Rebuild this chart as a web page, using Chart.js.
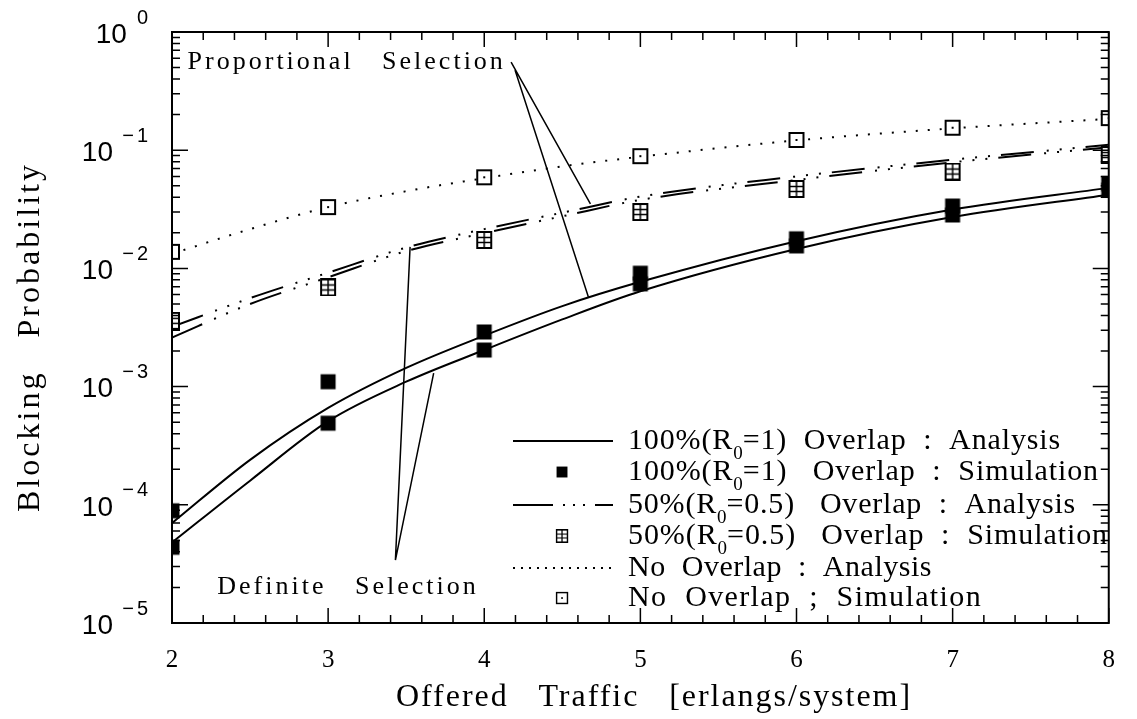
<!DOCTYPE html>
<html>
<head>
<meta charset="utf-8">
<script src="https://cdn.jsdelivr.net/npm/chart.js@4.4.0/dist/chart.umd.min.js"></script>
<style>
  html, body { margin: 0; padding: 0; background: #fff; }
  #wrap { width: 1137px; height: 719px; }
</style>
</head>
<body>
<div id="wrap"><canvas id="chartCanvas"></canvas></div>
<script>
// --- Data ---
const simTraffic = [2, 3, 4, 5, 6, 7, 8];
const anaTraffic = [2, 2.5, 3, 3.5, 4, 4.5, 5, 6, 7, 8];

// 100% overlap, analysis (proportional / definite selection)
const fullAnaProp = [7.0e-5, 2.4e-4, 6.6e-4, 1.44e-3, 2.7e-3, 4.8e-3, 7.7e-3, 1.7e-2, 3.15e-2, 4.8e-2];
const fullAnaDef = [4.8e-5, 1.6e-4, 5.1e-4, 1.1e-3, 2.04e-3, 3.7e-3, 6.4e-3, 1.46e-2, 2.72e-2, 4.2e-2];
// 100% overlap, simulation (two runs)
const fullSimProp = [8.9e-5, 1.1e-3, 2.9e-3, 9.1e-3, 1.78e-2, 3.37e-2, 5.2e-2];
const fullSimDef = [4.37e-5, 4.9e-4, 2.04e-3, 7.4e-3, 1.55e-2, 2.83e-2, 4.6e-2];

// 50% overlap
const halfAnaProp = [3.2e-3, 5.6e-3, 9.2e-3, 1.5e-2, 2.15e-2, 2.96e-2, 4.05e-2, 6.0e-2, 8.3e-2, 1.11e-1];
const halfAnaDef = [2.6e-3, 5.0e-3, 8.4e-3, 1.4e-2, 1.99e-2, 2.76e-2, 3.8e-2, 5.6e-2, 7.9e-2, 1.06e-1];
const halfSim = [3.6e-3, 6.9e-3, 1.74e-2, 3.0e-2, 4.7e-2, 6.6e-2, 9.1e-2];

// No overlap
const noAna = [1.33e-2, 2.15e-2, 3.3e-2, 4.5e-2, 5.8e-2, 7.3e-2, 8.8e-2, 1.21e-1, 1.53e-1, 1.84e-1];
const noSim = [1.38e-2, 3.3e-2, 5.9e-2, 8.9e-2, 1.22e-1, 1.55e-1, 1.87e-1];

const yExponents = [0, -1, -2, -3, -4, -5];

// legend rows: text before subscript, subscript, text after
const legendLabels = [
    ['100%(R', '0', '=1)  Overlap  :  Analysis'],
    ['100%(R', '0', '=1)   Overlap  :  Simulation'],
    ['50%(R', '0', '=0.5)   Overlap  :  Analysis'],
    ['50%(R', '0', '=0.5)   Overlap  :  Simulation'],
    ['No  Overlap  :  Analysis', '', ''],
    ['No  Overlap  ;  Simulation', '', '']
];

const xTitle = 'Offered   Traffic   [erlangs/system]';
const yTitle = 'Blocking   Probability';

// Leader lines for the text annotations, in data coordinates
const propText = { x: 2.10, y: 0.56, text: 'Proportional   Selection' };
const propLeaders = [
    [[4.172, 0.557], [4.68, 0.0351]],
    [[4.197, 0.477], [4.667, 0.00573]]
];
const defText = { x: 2.29, y: 2.02e-5, text: 'Definite   Selection' };
const defLeaders = [
    [[3.431, 3.41e-5], [3.525, 0.0152]],
    [[3.431, 3.41e-5], [3.676, 0.0013]]
];

// --- Markers ---
function makeMarker(kind) {
    const c = document.createElement('canvas');
    c.width = 18; c.height = 18;
    const g = c.getContext('2d');
    g.strokeStyle = '#000';
    g.fillStyle = '#000';
    g.lineWidth = 2;
    if (kind === 'filled') {
        g.fillRect(1.5, 1.5, 15, 15);
    } else if (kind === 'open') {
        g.fillStyle = '#fff';
        g.fillRect(2, 2, 14, 14);
        g.strokeRect(2, 2, 14, 14);
        g.fillStyle = '#000';
        g.fillRect(8, 8, 2, 2);
    } else {
        g.fillStyle = '#fff';
        g.fillRect(2, 1, 14, 16);
        g.strokeRect(2, 1, 14, 16);
        g.lineWidth = 1.5;
        g.beginPath();
        g.moveTo(9, 1); g.lineTo(9, 17);
        g.moveTo(2, 6.5); g.lineTo(16, 6.5);
        g.moveTo(2, 11.5); g.lineTo(16, 11.5);
        g.stroke();
    }
    return c;
}
const filledMark = makeMarker('filled');
const openMark = makeMarker('open');
const gridMark = makeMarker('grid');

const solidDash = [];
const dashDots = [33, 13, 2, 11, 2, 11, 2, 11];
const dotted = [2, 10];

function pts(xs, values) {
    return xs.map((x, i) => ({ x, y: values[i] }));
}

function lineSet(label, values, dash) {
    return {
        label, data: pts(anaTraffic, values), borderColor: '#000', borderWidth: 2,
        borderDash: dash, pointRadius: 0, fill: false,
        cubicInterpolationMode: 'monotone'
    };
}

function markSet(label, values, mark) {
    return {
        label, data: pts(simTraffic, values), showLine: false, pointStyle: mark,
        pointRadius: 9, borderColor: '#000', backgroundColor: '#000'
    };
}

// draw a string stretched (via letter spacing) to a given width
function fitText(ctx, str, x, y, width) {
    ctx.letterSpacing = '0px';
    const w = ctx.measureText(str).width;
    ctx.letterSpacing = ((width - w) / str.length) + 'px';
    ctx.fillText(str, x, y);
    ctx.letterSpacing = '0px';
}

// --- Custom drawing: frame, inward ticks, y labels, titles, legend, annotations ---
const decor = {
    id: 'decor',
    afterDraw(chart) {
        const ctx = chart.ctx;
        const a = chart.chartArea;
        const xs = chart.scales.x;
        const ys = chart.scales.y;
        ctx.save();
        ctx.strokeStyle = '#000';
        ctx.fillStyle = '#000';
        ctx.lineWidth = 2;
        ctx.strokeRect(a.left, a.top, a.right - a.left, a.bottom - a.top);

        ctx.lineWidth = 1.5;
        ctx.beginPath();
        for (let i = 0; i <= 30; i++) {
            const px = xs.getPixelForValue(2 + i * 0.2);
            const len = i % 5 === 0 ? 15 : 8;
            ctx.moveTo(px, a.bottom); ctx.lineTo(px, a.bottom - len);
            ctx.moveTo(px, a.top); ctx.lineTo(px, a.top + len);
        }
        for (let e = -5; e <= 0; e++) {
            for (let m = 1; m <= 9; m++) {
                const v = m * Math.pow(10, e);
                if (v > 1.0001) break;
                const py = ys.getPixelForValue(v);
                const len = m === 1 ? 16 : 8;
                ctx.moveTo(a.left, py); ctx.lineTo(a.left + len, py);
                ctx.moveTo(a.right, py); ctx.lineTo(a.right - len, py);
            }
        }
        ctx.stroke();

        // y tick labels 10^e
        ctx.textBaseline = 'middle';
        yExponents.forEach(e => {
            const py = ys.getPixelForValue(Math.pow(10, e));
            ctx.font = '20px "Liberation Sans"';
            ctx.textAlign = 'right';
            const digit = String(Math.abs(e));
            ctx.fillText(digit, 148, py - 14);
            let expLeft = 148 - ctx.measureText(digit).width;
            if (e < 0) {
                ctx.fillText('\u2212', expLeft - 3, py - 14);
                expLeft = 123;
            }
            ctx.font = '28px "Liberation Sans"';
            ctx.fillText('10', expLeft - 10, py + 3);
        });

        // axis titles
        ctx.textAlign = 'left';
        ctx.font = '32px "Liberation Serif"';
        fitText(ctx, xTitle, 396, 698, 516);
        ctx.save();
        ctx.translate(31, 512);
        ctx.rotate(-Math.PI / 2);
        fitText(ctx, yTitle, 0, 0, 350);
        ctx.restore();

        // annotations
        ctx.font = '26px "Liberation Serif"';
        ctx.letterSpacing = '3px';
        [propText, defText].forEach(t => {
            ctx.fillText(t.text, xs.getPixelForValue(t.x), ys.getPixelForValue(t.y));
        });
        ctx.letterSpacing = '0px';
        ctx.lineWidth = 1.5;
        ctx.beginPath();
        propLeaders.concat(defLeaders).forEach(seg => {
            ctx.moveTo(xs.getPixelForValue(seg[0][0]), ys.getPixelForValue(seg[0][1]));
            ctx.lineTo(xs.getPixelForValue(seg[1][0]), ys.getPixelForValue(seg[1][1]));
        });
        ctx.stroke();

        // legend
        const rows = [441, 472, 505, 536, 568, 598];
        const rights = [1061, 1099, 1076, 1108, 932, 982];
        const samples = [
            { dash: solidDash }, { mark: filledMark, s: 13 },
            { dash: [40, 10, 2, 8, 2, 8, 2, 10, 20] }, { mark: gridMark, s: 14 },
            { dash: [2, 6] }, { mark: openMark, s: 14 }
        ];
        rows.forEach((ry, i) => {
            const s = samples[i];
            if (s.mark) {
                ctx.drawImage(s.mark, 562 - s.s / 2, ry - s.s / 2, s.s, s.s);
            } else {
                ctx.save();
                ctx.lineWidth = 2;
                ctx.setLineDash(s.dash);
                ctx.beginPath();
                ctx.moveTo(513, ry); ctx.lineTo(613, ry);
                ctx.stroke();
                ctx.restore();
            }
            const [pre, sub, post] = legendLabels[i];
            ctx.font = '30px "Liberation Serif"';
            const wPre = ctx.measureText(pre).width;
            const wPost = ctx.measureText(post).width;
            ctx.font = '19px "Liberation Serif"';
            const wSub = ctx.measureText(sub).width;
            const total = rights[i] - 628;
            const n = pre.length + post.length;
            const ls = (total - wPre - wPost - wSub) / n;
            ctx.font = '30px "Liberation Serif"';
            ctx.letterSpacing = ls + 'px';
            ctx.fillText(pre, 628, ry);
            let x = 628 + wPre + ls * pre.length;
            ctx.letterSpacing = '0px';
            if (sub) {
                ctx.font = '19px "Liberation Serif"';
                ctx.fillText(sub, x, ry + 13);
                x += wSub;
            }
            ctx.font = '30px "Liberation Serif"';
            ctx.letterSpacing = ls + 'px';
            ctx.fillText(post, x, ry);
            ctx.letterSpacing = '0px';
        });
        ctx.restore();
    }
};

const canvas = document.getElementById('chartCanvas');

new Chart(canvas, {
    type: 'line',
    data: {
        datasets: [
            markSet('100% sim a', fullSimProp, filledMark),
            markSet('100% sim b', fullSimDef, filledMark),
            markSet('50% sim', halfSim, gridMark),
            markSet('No overlap sim', noSim, openMark),
            lineSet('100% analysis prop', fullAnaProp, solidDash),
            lineSet('100% analysis def', fullAnaDef, solidDash),
            lineSet('50% analysis prop', halfAnaProp, dashDots),
            lineSet('50% analysis def', halfAnaDef, dashDots),
            lineSet('No overlap analysis', noAna, dotted)
        ]
    },
    options: {
        responsive: true,
        maintainAspectRatio: false,
        animation: false,
        layout: { padding: { left: 0, top: 32, right: 9, bottom: 0 } },
        plugins: {
            legend: { display: false },
            tooltip: { enabled: false },
            title: { display: false }
        },
        scales: {
            x: {
                type: 'linear', min: 2, max: 8,
                grid: { display: false, drawTicks: false },
                border: { display: false },
                ticks: {
                    stepSize: 1, color: '#000', padding: 22,
                    font: { family: '"Liberation Serif"', size: 25 }
                },
                afterFit(s) { s.height = 96; }
            },
            y: {
                type: 'logarithmic', min: 1e-5, max: 1,
                grid: { display: false, drawTicks: false },
                border: { display: false },
                ticks: { display: false },
                afterFit(s) { s.width = 172; }
            }
        }
    },
    plugins: [decor]
});
</script>
</body>
</html>
